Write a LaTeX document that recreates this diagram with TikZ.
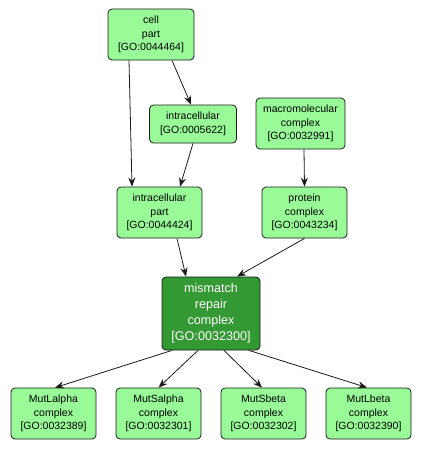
\documentclass[tikz,border=0pt]{standalone}
\usepackage{fontspec}
\setmainfont{Liberation Sans}
\usetikzlibrary{arrows.meta}
\definecolor{TermGreen}{HTML}{98FB98}
\definecolor{FocusGreen}{HTML}{339933}
\definecolor{EdgeBlack}{HTML}{1A1A1A}
\tikzset{
  term/.style={draw=EdgeBlack, line width=0.8pt, rounded corners=4pt, fill=TermGreen, align=center, minimum width=85pt, minimum height=51pt, inner sep=0pt, font=\fontsize{10.5}{13.6}\selectfont},
  focus/.style={draw=EdgeBlack, line width=0.8pt, rounded corners=4pt, fill=FocusGreen, text=white, align=center, minimum width=98pt, minimum height=73pt, inner sep=0pt, font=\fontsize{12.6}{16}\selectfont},
  arrow/.style={-{Stealth[length=9pt, width=7pt, inset=3pt]}, line width=0.8pt, draw=EdgeBlack}
}

\begin{document}
\begin{tikzpicture}[x=1pt,y=-1pt]
\useasboundingbox (0,0) rectangle (421,451);

\node[term, minimum width=86pt] (cellpart) at (151,34.5) {cell\\part\\{[GO:0044464]}};
\node[term, minimum width=87pt, minimum height=38pt] (intra) at (193,124) {intracellular\\{[GO:0005622]}};
\node[term, minimum width=89pt] (macro) at (300.5,123.5) {macromolecular\\complex\\{[GO:0032991]}};
\node[term] (intrapart) at (159.5,212.5) {intracellular\\part\\{[GO:0044424]}};
\node[term] (protein) at (304.5,212.5) {protein\\complex\\{[GO:0043234]}};
\node[focus] (mmr) at (211,313.5) {mismatch\\repair\\complex\\{[GO:0032300]}};

\node[term] (mutla) at (53.5,413.5) {MutLalpha\\complex\\{[GO:0032389]}};
\node[term] (mutsa) at (158.5,413.5) {MutSalpha\\complex\\{[GO:0032301]}};
\node[term] (mutsb) at (263.5,413.5) {MutSbeta\\complex\\{[GO:0032302]}};
\node[term] (mutlb) at (368.5,413.5) {MutLbeta\\complex\\{[GO:0032390]}};

\draw[arrow] ([xshift=-22pt]cellpart.south) -- ([xshift=-27.5pt]intrapart.north);
\draw[arrow] ([xshift=21pt]cellpart.south) -- ([xshift=-2pt]intra.north);
\draw[arrow] (intra.south) -- ([xshift=20.5pt]intrapart.north);
\draw[arrow] ([xshift=3.5pt]macro.south) -- (protein.north);
\draw[arrow] ([xshift=17.5pt]intrapart.south) -- ([xshift=-25pt]mmr.north);
\draw[arrow] (protein.south) -- ([xshift=26pt]mmr.north);

\draw[arrow] ([xshift=-39pt]mmr.south) -- ([xshift=1.5pt]mutla.north);
\draw[arrow] ([xshift=-13pt]mmr.south) -- (mutsa.north);
\draw[arrow] ([xshift=13pt]mmr.south) -- ([xshift=-1.5pt]mutsb.north);
\draw[arrow] ([xshift=38pt]mmr.south) -- ([xshift=-1.5pt]mutlb.north);
\end{tikzpicture}
\end{document}
